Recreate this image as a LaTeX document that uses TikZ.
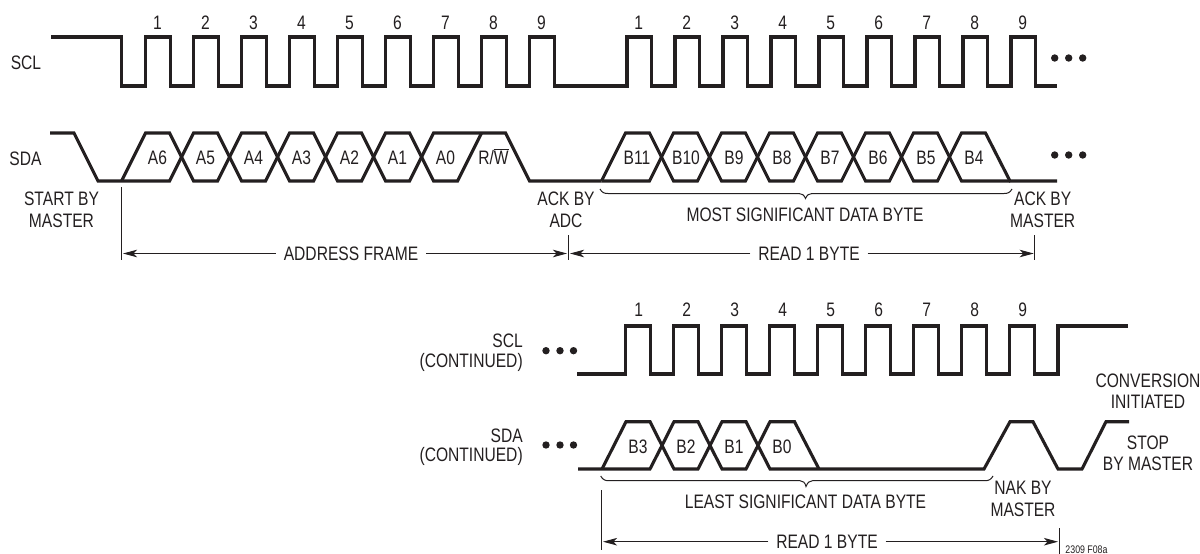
\documentclass[tikz,border=0pt]{standalone}
\usepackage{fontspec}
\setmainfont[FakeStretch=0.8]{Liberation Sans}
\newfontfamily\tinyface[FakeStretch=0.8]{Liberation Sans}
\usetikzlibrary{arrows.meta}
\definecolor{ink}{HTML}{231F20}
\newcommand{\ovl}[1]{\leavevmode\vbox{\hrule height .8pt \kern 1.2pt \hbox{#1}}}
\tikzset{
  sig/.style={draw=ink,line width=3.1pt,line join=miter},
  thin line/.style={draw=ink,line width=1pt},
  dim/.style={draw=ink,line width=1pt,-{Stealth[length=14pt,width=7.5pt,inset=3.5pt]}},
  lbl/.style={text=ink,font=\fontsize{19.5}{22}\selectfont,inner sep=0pt,outer sep=0pt,anchor=center},
  gaplbl/.style={lbl,inner xsep=8pt},
  dot/.style={circle,fill=ink,inner sep=0pt,minimum size=7.4pt},
}
\begin{document}
\begin{tikzpicture}[x=1pt,y=-1pt]
\useasboundingbox (0,0) rectangle (1200,554);
% ---------- top SCL
\draw[sig] (51,37) -- (121.6,37) -- (121.6,86)
  \foreach \r in {145.6,193.6,241.6,289.6,337.6,385.6,433.6,481.6,529.6}
    { -- (\r,86) -- (\r,37) -- ({\r+24.6},37) -- ({\r+24.6},86) }
  \foreach \r in {627,675,723,771,819,867,915,963,1011}
    { -- (\r,86) -- (\r,37) -- ({\r+24.6},37) -- ({\r+24.6},86) }
  -- (1057,86);
% ---------- top SDA
\draw[sig] (50,133) -- (74,133) -- (98,181) -- (169.6,181) -- (181.6,157);
\draw[sig] (121.6,181) -- (145.6,133) -- (169.6,133) -- (181.6,157);
\foreach \t in {193.6,241.6,289.6,337.6,385.6}
  \draw[sig] ({\t-12},157) -- (\t,133) -- ({\t+24},133) -- ({\t+36},157) -- ({\t+24},181) -- (\t,181) -- cycle;
\draw[sig] (421.6,157) -- (433.6,133) -- (505.6,133) -- (529.6,181) -- (601.5,181);
\draw[sig] (421.6,157) -- (433.6,181) -- (457.6,181) -- (481.6,133);
\draw[sig] (601.5,181) -- (625.5,133) -- (649.5,133) -- (661.5,157);
\draw[sig] (601.5,181) -- (649.5,181) -- (661.5,157);
\foreach \t in {673.5,721.5,769.5,817.5,865.5,913.5}
  \draw[sig] ({\t-12},157) -- (\t,133) -- ({\t+24},133) -- ({\t+36},157) -- ({\t+24},181) -- (\t,181) -- cycle;
\draw[sig] (949.5,157) -- (961.5,133) -- (985.5,133) -- (1010,181) -- (1057,181);
\draw[sig] (949.5,157) -- (961.5,181) -- (1010,181);
% ---------- bottom SCL
\draw[sig] (577,374)
  \foreach \r in {625.7,673.7,721.7,769.7,817.7,865.7,913.7,961.7,1009.7}
    { -- (\r,374) -- (\r,326) -- ({\r+24.6},326) -- ({\r+24.6},374) }
  -- (1058,374) -- (1058,326) -- (1128,326);
% ---------- bottom SDA
\draw[sig] (578,469) -- (650,469) -- (662,445.5);
\draw[sig] (602,469) -- (626,421.7) -- (650,421.7) -- (662,445.5);
\foreach \t in {674,722}
  \draw[sig] ({\t-12},445.5) -- (\t,421.7) -- ({\t+24},421.7) -- ({\t+36},445.5) -- ({\t+24},469) -- (\t,469) -- cycle;
\draw[sig] (758,445.5) -- (770,421.7) -- (794.5,421.7) -- (819,469);
\draw[sig] (758,445.5) -- (770,469) -- (984,469) -- (1010,421.7) -- (1033,421.7) -- (1058,469) -- (1082,469) -- (1106,421.7) -- (1129,421.7);
% ---------- pulse numbers
\foreach \n/\x in {1/157.5,2/205.5,3/253.5,4/301.5,5/349.5,6/397.5,7/445.5,8/493.5,9/541.5}
  \node[lbl] (ta\n) at (\x,22.5) {\n};
\foreach \n/\x in {1/638.7,2/686.7,3/734.7,4/782.7,5/830.7,6/878.7,7/926.7,8/974.7,9/1022.7}
  \node[lbl] (tb\n) at (\x,22.5) {\n};
\foreach \n/\x in {1/638.7,2/686.7,3/734.7,4/782.7,5/830.7,6/878.7,7/926.7,8/974.7,9/1022.7}
  \node[lbl] (tc\n) at (\x,309.5) {\n};
% ---------- bit labels
\foreach \n/\x in {A6/157.5,A5/205.5,A4/253.5,A3/301.5,A2/349.5,A1/397.5,A0/445.5}
  \node[lbl] (bit\n) at (\x,158) {\n};
\node[lbl] (bitRW) at (493.5,157) {R/\ovl{W}};
\foreach \n/\x in {B11/637,B10/686,B9/734,B8/782,B7/830,B6/878,B5/926,B4/974}
  \node[lbl] (bit\n) at (\x,158) {\n};
\foreach \n/\x in {B3/638,B2/686,B1/734,B0/782}
  \node[lbl] (bit\n) at (\x,446.7) {\n};
% ---------- signal names and notes
\node[lbl] (scl) at (26,63) {SCL};
\node[lbl] (sda) at (25.5,159) {SDA};
\node[lbl] (start1) at (61.5,199.2) {START BY};
\node[lbl] (start2) at (61.5,220.5) {MASTER};
\node[lbl] (ack1) at (566,199.2) {ACK BY};
\node[lbl] (ack2) at (566,220.5) {ADC};
\node[lbl] (msb) at (805,214.5) {MOST SIGNIFICANT DATA BYTE};
\node[lbl] (ackm1) at (1042.7,199.2) {ACK BY};
\node[lbl] (ackm2) at (1042.7,220.5) {MASTER};
\node[lbl,anchor=east] (scl2) at (522.7,341) {SCL};
\node[lbl,anchor=east] (scl2b) at (522.7,362.7) {(CONTINUED)};
\node[lbl,anchor=east] (sda2) at (522.7,435.3) {SDA};
\node[lbl,anchor=east] (sda2b) at (522.7,456.7) {(CONTINUED)};
\node[lbl] (conv1) at (1148,380.5) {CONVERSION};
\node[lbl] (conv2) at (1148,401.5) {INITIATED};
\node[lbl] (stop1) at (1148,443.2) {STOP};
\node[lbl] (stop2) at (1148,463.8) {BY MASTER};
\node[lbl] (nak1) at (1023,488.2) {NAK BY};
\node[lbl] (nak2) at (1023,509.5) {MASTER};
\node[lbl] (lsb) at (805.5,501.5) {LEAST SIGNIFICANT DATA BYTE};
\node[text=ink,font=\tinyface\fontsize{11}{13}\selectfont,inner sep=0pt] (fig) at (1086.5,550) {2309 F08a};
% ---------- ellipses
\foreach \i/\x in {1/1054.7,2/1068.7,3/1082.7} {
  \node[dot] (da\i) at (\x,58) {};
  \node[dot] (db\i) at (\x,155) {};
}
\foreach \i/\x in {1/546,2/560,3/573.5} {
  \node[dot] (dc\i) at (\x,350.7) {};
  \node[dot] (dd\i) at (\x,445) {};
}
% ---------- braces
\draw[thin line] (600,189) .. controls (602,192.5) and (604,193.5) .. (608,193.5) -- (799,193.5)
  .. controls (802,193.5) and (804,195) .. (805.5,198.5) .. controls (807,195) and (809,193.5) .. (812,193.5)
  -- (1004,193.5) .. controls (1008,193.5) and (1010,192.5) .. (1012,189);
\draw[thin line] (600.7,476) .. controls (602.7,479.5) and (604.7,480.7) .. (608.7,480.7) -- (800,480.7)
  .. controls (803,480.7) and (805,482.5) .. (806,486.5) .. controls (807.5,482.5) and (809.5,480.7) .. (812.5,480.7)
  -- (985,480.7) .. controls (989,480.7) and (991,479.5) .. (993,476);
% ---------- dimension lines
\coordinate (t1a) at (121.7,187);  \coordinate (t1b) at (121.7,260);
\coordinate (t2a) at (568.3,235);  \coordinate (t2b) at (568.3,260);
\coordinate (t3a) at (1034.7,235); \coordinate (t3b) at (1034.7,260);
\coordinate (t4a) at (601.3,490);  \coordinate (t4b) at (601.3,550);
\coordinate (t5a) at (1059,528);   \coordinate (t5b) at (1059,553.5);
\draw[thin line] (t1a) -- (t1b);
\draw[thin line] (t2a) -- (t2b);
\draw[thin line] (t3a) -- (t3b);
\draw[thin line] (t4a) -- (t4b);
\draw[thin line] (t5a) -- (t5b);
\node[gaplbl] (addr) at (351,253.5) {ADDRESS FRAME};
\node[gaplbl] (read1) at (809,253.5) {READ 1 BYTE};
\node[gaplbl] (read2) at (827,541.7) {READ 1 BYTE};
\coordinate (a1) at (123,253.5);
\coordinate (a2) at (567,253.5);
\coordinate (a3) at (570,253.5);
\coordinate (a4) at (1033.7,253.5);
\coordinate (a5) at (603,541.7);
\coordinate (a6) at (1058,541.7);
\draw[dim] (addr.west) -- (a1);
\draw[dim] (addr.east) -- (a2);
\draw[dim] (read1.west) -- (a3);
\draw[dim] (read1.east) -- (a4);
\draw[dim] (read2.west) -- (a5);
\draw[dim] (read2.east) -- (a6);
\end{tikzpicture}
\end{document}
